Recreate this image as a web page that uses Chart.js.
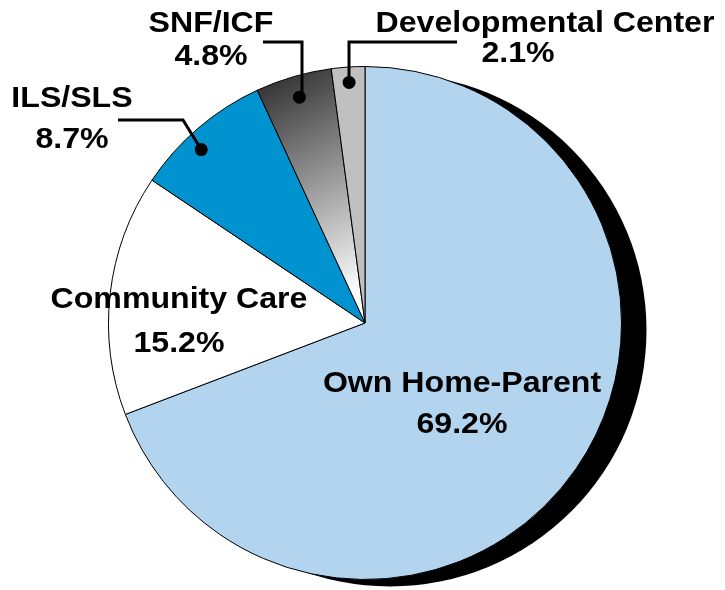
<!DOCTYPE html>
<html>
<head>
<meta charset="utf-8">
<script src="https://cdn.jsdelivr.net/npm/chart.js@4.4.0/dist/chart.umd.min.js"></script>
<style>
  html, body { margin: 0; padding: 0; background: #fff; }
  #wrap { width: 725px; height: 590px; }
</style>
</head>
<body>
<div id="wrap"><canvas id="livingPie"></canvas></div>
<script>
// Pie data ---------------------------------------------------------------
const categories = ['Own Home-Parent', 'Community Care', 'ILS/SLS', 'SNF/ICF', 'Developmental Center'];
const shares = [69.2, 15.2, 8.7, 4.8, 2.1];
const sliceColors = ['#b3d4ee', '#ffffff', '#0093d0', null, '#c0c0c0'];

// where each label sits (centre of each text line) and its leader line elbow
const labelSpots = [
    { x: 462, y: [392, 433] },
    { x: 179, y: [308, 352] },
    { x: 72, y: [107, 148] },
    { x: 211, y: [32, 65] },
    { x: 545, y: [32, 62], x2: 518 }
];
const leaders = {
    2: { pts: [[118, 120], [183, 120]], frac: 0.93, shift: -0.05 },
    3: { pts: [[263, 42], [302, 42]], frac: 0.917, drop: true },
    4: { pts: [[457, 42], [349, 42]], frac: 0.94, drop: true }
};

function snfGradient(chart) {
    const area = chart.chartArea;
    if (!area) return '#666';
    const cx = (area.left + area.right) / 2;
    const cy = (area.top + area.bottom) / 2;
    const r = Math.min(area.right - area.left, area.bottom - area.top) / 2;
    const g = chart.ctx.createLinearGradient(cx - 0.45 * r, cy - 0.95 * r, cx - 0.02 * r, cy - 0.12 * r);
    g.addColorStop(0, '#2b2b2b');
    g.addColorStop(1, '#ffffff');
    return g;
}

// black drop shadow behind the pie
const pieShadow = {
    id: 'pieShadow',
    beforeDatasetsDraw(chart) {
        const arc = chart.getDatasetMeta(0).data[0];
        if (!arc) return;
        const { ctx } = chart;
        ctx.save();
        ctx.beginPath();
        ctx.arc(arc.x + 25, arc.y + 7, arc.outerRadius, 0, Math.PI * 2);
        ctx.fillStyle = '#000';
        ctx.fill();
        ctx.restore();
    }
};

// slice labels and leader lines
const pieLabels = {
    id: 'pieLabels',
    afterDatasetsDraw(chart) {
        const { ctx } = chart;
        const arcs = chart.getDatasetMeta(0).data;
        ctx.save();
        // leader lines + dots
        Object.keys(leaders).forEach(k => {
            const i = +k;
            const a = arcs[i];
            const mid = (a.startAngle + a.endAngle) / 2 + (leaders[i].shift || 0);
            const dx = a.x + Math.cos(mid) * a.outerRadius * leaders[i].frac;
            const dy = a.y + Math.sin(mid) * a.outerRadius * leaders[i].frac;
            const p = leaders[i].pts;
            ctx.beginPath();
            ctx.moveTo(p[0][0], p[0][1]);
            ctx.lineTo(p[1][0], p[1][1]);
            if (leaders[i].drop) ctx.lineTo(p[1][0], dy);
            ctx.lineTo(dx, dy);
            ctx.strokeStyle = '#000';
            ctx.lineWidth = 3;
            ctx.lineJoin = 'miter';
            ctx.stroke();
            ctx.beginPath();
            ctx.arc(dx, dy, 6.5, 0, Math.PI * 2);
            ctx.fillStyle = '#000';
            ctx.fill();
        });
        // text
        ctx.font = 'bold 30px "Liberation Sans", Arial, sans-serif';
        ctx.textAlign = 'center';
        ctx.textBaseline = 'alphabetic';
        ctx.fillStyle = '#000';
        categories.forEach((name, i) => {
            const s = labelSpots[i];
            const lines = [name, shares[i].toFixed(1) + '%'];
            lines.forEach((t, j) => {
                const x = (j === 1 && s.x2) ? s.x2 : s.x;
                ctx.save();
                ctx.translate(x, s.y[j]);
                ctx.scale(1.07, 1);
                ctx.fillText(t, 0, 0);
                ctx.restore();
            });
        });
        ctx.restore();
    }
};

const livingPie = new Chart(document.getElementById('livingPie'), {
    type: 'pie',
    data: {
        labels: categories,
        datasets: [{
            data: shares,
            backgroundColor: (c) => c.dataIndex === 3 ? snfGradient(c.chart) : sliceColors[c.dataIndex],
            borderColor: '#000',
            borderWidth: 1,
            hoverOffset: 0
        }]
    },
    options: {
        responsive: true,
        maintainAspectRatio: false,
        animation: false,
        layout: { padding: { top: 66, bottom: 10, left: 5, right: 0 } },
        plugins: {
            legend: { display: false },
            tooltip: { enabled: false }
        },
        events: []
    },
    plugins: [pieShadow, pieLabels]
});
</script>
</body>
</html>
